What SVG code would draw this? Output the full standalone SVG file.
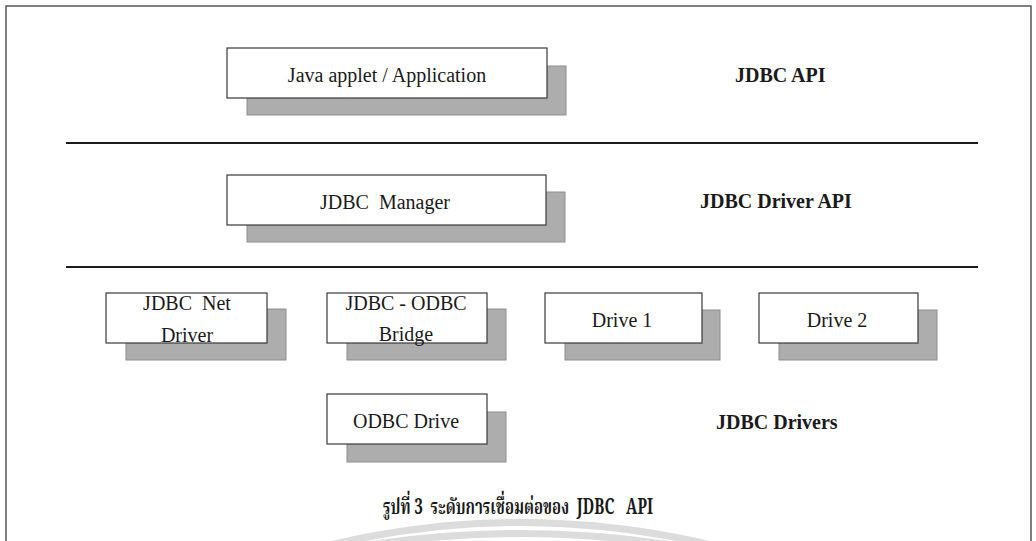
<svg xmlns="http://www.w3.org/2000/svg" width="1036" height="541" viewBox="0 0 1036 541">
  <style>
    text { white-space: pre; }
    .box { fill: #ffffff; stroke: #3a3a3a; stroke-width: 1.2; }
    .shadow { fill: #adadad; stroke: #8e8e8e; stroke-width: 1; }
    .rule { stroke: #1a1a1a; stroke-width: 2.2; }
    .label { font-family: "Liberation Serif", "Times New Roman", serif; font-size: 20px; fill: #1a1a1a; text-anchor: middle; }
    .layer { font-family: "Liberation Serif", "Times New Roman", serif; font-size: 20px; font-weight: bold; fill: #1a1a1a; }
    .caption { font-family: "Noto Serif Thai", "Noto Sans Thai", "Liberation Serif", serif; font-size: 22px; font-weight: bold; fill: #1a1a1a; }
    .seal { fill: none; stroke: #dcdcdc; stroke-width: 7; }
  </style>

  <rect width="1036" height="541" fill="#ffffff"/>

  <!-- page frame -->
  <rect x="6" y="6" width="1025" height="560" fill="none" stroke="#555555" stroke-width="1.5"/>

  <!-- faint seal arcs at the foot of the page -->
  <g id="seal">
    <path class="seal" d="M 330 545 Q 520 500 712 545"/>
    <path class="seal" d="M 368 545 Q 520 522 672 545"/>
  </g>

  <!-- layer separators -->
  <g id="connectors">
    <line class="rule" x1="66" y1="143" x2="978" y2="143"/>
    <line class="rule" x1="66" y1="267" x2="978" y2="267"/>
  </g>

  <g id="java-app">
    <rect class="shadow" x="247" y="66" width="319" height="49"/>
    <rect class="box" x="227" y="48" width="320" height="50"/>
    <text class="label" x="387" y="82">Java applet / Application</text>
  </g>

  <g id="jdbc-manager">
    <rect class="shadow" x="247" y="192" width="318" height="50"/>
    <rect class="box" x="227" y="175" width="319" height="50"/>
    <text class="label" x="385" y="209">JDBC  Manager</text>
  </g>

  <g id="jdbc-net-driver">
    <rect class="shadow" x="126" y="309" width="160" height="51"/>
    <rect class="box" x="106" y="293" width="161" height="50"/>
    <text class="label" x="187" y="310">JDBC  Net</text>
    <text class="label" x="187" y="342">Driver</text>
  </g>

  <g id="jdbc-odbc-bridge">
    <rect class="shadow" x="347" y="309" width="159" height="51"/>
    <rect class="box" x="327" y="293" width="160" height="50"/>
    <text class="label" x="406" y="310">JDBC - ODBC</text>
    <text class="label" x="406" y="341">Bridge</text>
  </g>

  <g id="drive-1">
    <rect class="shadow" x="565" y="310" width="155" height="50"/>
    <rect class="box" x="545" y="293" width="157" height="50"/>
    <text class="label" x="622" y="327">Drive 1</text>
  </g>

  <g id="drive-2">
    <rect class="shadow" x="779" y="310" width="158" height="50"/>
    <rect class="box" x="759" y="293" width="159" height="50"/>
    <text class="label" x="837" y="327">Drive 2</text>
  </g>

  <g id="odbc-drive">
    <rect class="shadow" x="347" y="412" width="159" height="50"/>
    <rect class="box" x="327" y="394" width="160" height="50"/>
    <text class="label" x="406" y="428">ODBC Drive</text>
  </g>

  <!-- layer names -->
  <g id="layer-labels">
    <text class="layer" x="735" y="82">JDBC API</text>
    <text class="layer" x="700" y="208">JDBC Driver API</text>
    <text class="layer" x="716" y="429">JDBC Drivers</text>
  </g>

  <text class="caption" x="383" y="514" textLength="270" lengthAdjust="spacingAndGlyphs">รูปที่ 3  ระดับการเชื่อมต่อของ  JDBC   API</text>
</svg>
